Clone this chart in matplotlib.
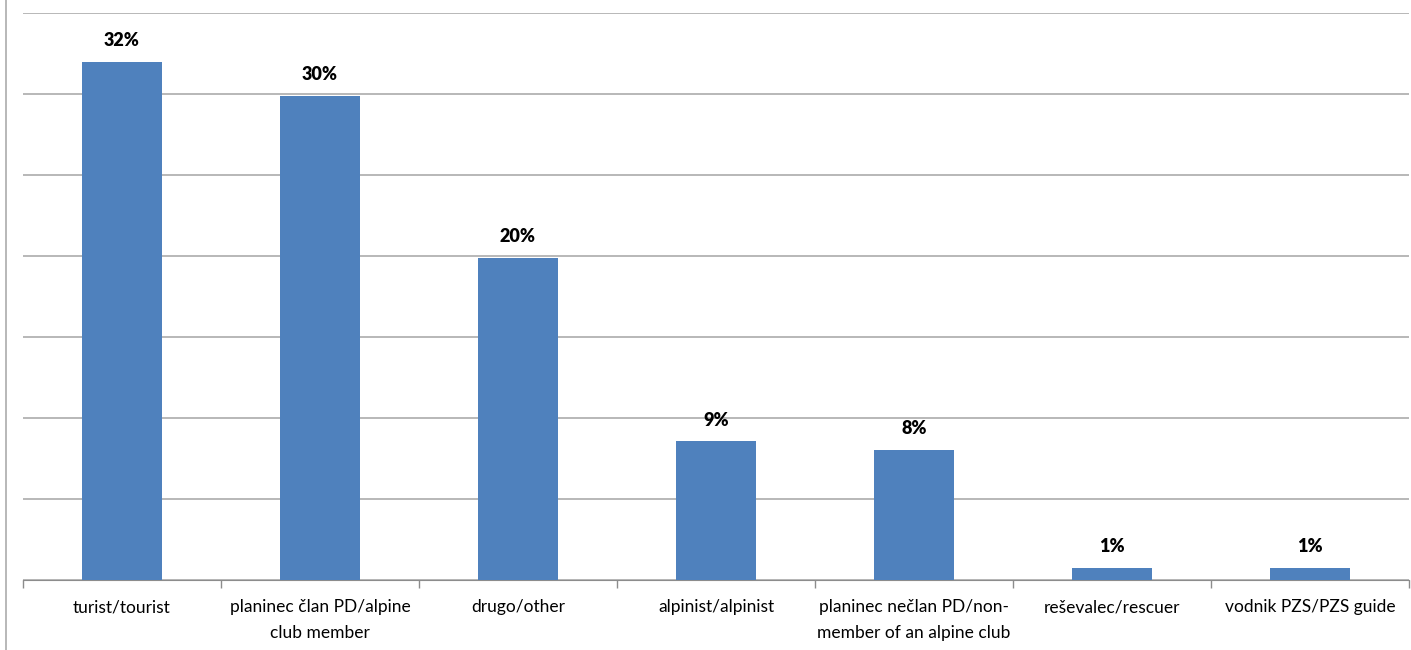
import matplotlib.pyplot as plt
from matplotlib.lines import Line2D

# data (percent)
categories = ['turist/tourist', 'planinec član PD/alpine\nclub member', 'drugo/other',
              'alpinist/alpinist', 'planinec nečlan PD/non-\nmember of an alpine club',
              'reševalec/rescuer', 'vodnik PZS/PZS guide']
shares = [32.0, 29.9, 19.9, 8.55, 8.05, 0.75, 0.75]

plt.rcParams['font.family'] = ['Lato', 'DejaVu Sans']

fig = plt.figure(figsize=(14.11, 6.5), dpi=100)
ax = fig.add_axes([23 / 1411, 70 / 650, 1386 / 1411, 567 / 650])

x = range(len(categories))
bars = ax.bar(x, shares, width=0.4, color='#4F81BD', zorder=3)
ax.bar_label(bars, labels=[f'{v:.0f}%' for v in shares], padding=9,
             fontsize=13, fontweight='heavy')

ax.set_xlim(-0.5, len(categories) - 0.5)
ax.set_ylim(0, 35)
ax.set_yticks(range(0, 36, 5))
ax.set_yticklabels([])
ax.tick_params(axis='y', length=0)
ax.grid(axis='y', color='#ABABAB', linewidth=1.2, zorder=0)

# category labels between boundary ticks
ax.set_xticks([i - 0.5 for i in range(len(categories) + 1)], minor=False)
ax.set_xticklabels([])
ax.tick_params(axis='x', length=6, color='#8C8C8C', width=1)
ax.set_xticks(list(x), minor=True)
ax.set_xticklabels(categories, minor=True, fontsize=12.5, linespacing=1.75)
ax.tick_params(axis='x', which='minor', length=0, pad=14)

for s in ['top', 'right', 'left']:
    ax.spines[s].set_visible(False)
ax.spines['bottom'].set_color('#8C8C8C')

# outer chart border on the left
fig.add_artist(Line2D([6 / 1411, 6 / 1411], [0, 1], color='#ABABAB', linewidth=1.2))

fig.savefig('out.png', dpi=100)
